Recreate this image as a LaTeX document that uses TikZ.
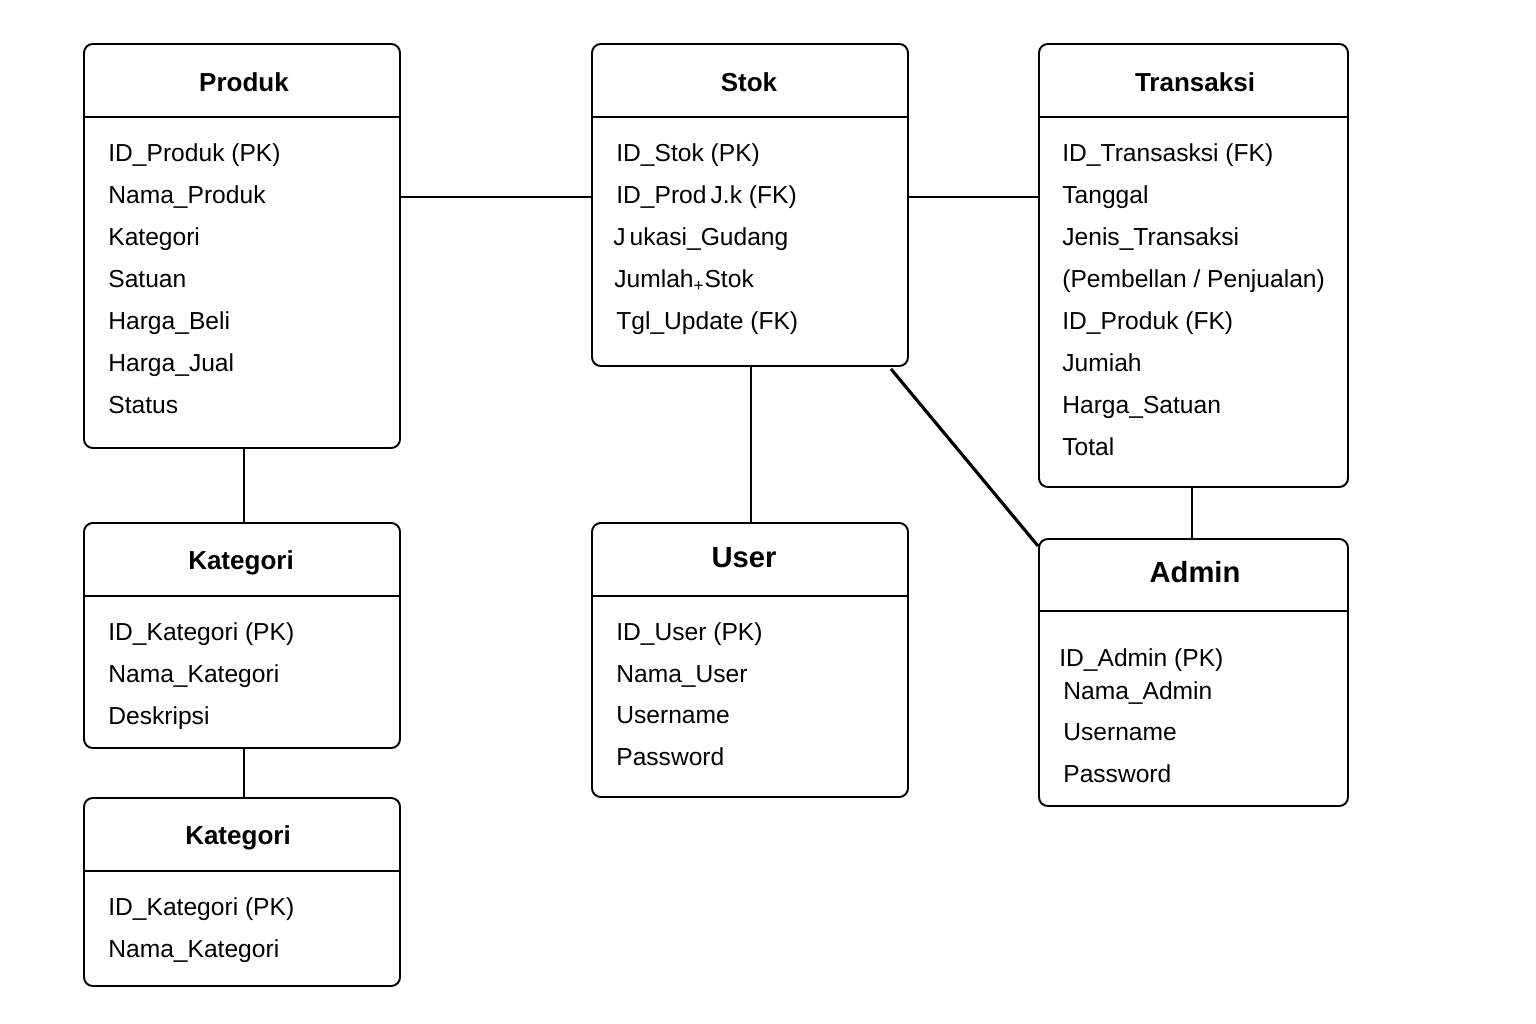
\documentclass[tikz,border=0pt]{standalone}
\usepackage{fontspec}
\setmainfont{Liberation Sans}
\usetikzlibrary{positioning,calc,fit}

\tikzset{
  entity/.style={draw, line width=1.1pt, rounded corners=5pt, inner sep=0pt},
  title/.style={font=\fontsize{14.8}{17}\selectfont\bfseries},
  bigtitle/.style={font=\fontsize{16.6}{19}\selectfont\bfseries},
  attr/.style={anchor=mid west, inner sep=0pt, font=\fontsize{14}{16}\selectfont},
  link/.style={line width=1.1pt},
  heavylink/.style={line width=1.8pt}
}
% header separator of an entity box
\newcommand{\entityrule}[2]{\draw[line width=0.8pt] (#1.west |- 0,#2) -- (#1.east |- 0,#2);}

\begin{document}
\begin{tikzpicture}[x=0.02cm, y=-0.02cm]
  \useasboundingbox (0,0) rectangle (1536,1024);

  % Entity boxes
  \node[entity, fit={(84,44) (400,448)}] (produk) {};
  \node[entity, fit={(592,44) (908,366)}] (stok) {};
  \node[entity, fit={(1039,44) (1348,487)}] (transaksi) {};
  \node[entity, fit={(84,523) (400,748)}] (kategori) {};
  \node[entity, fit={(592,523) (908,797)}] (user) {};
  \node[entity, fit={(1039,539) (1348,806)}] (admin) {};
  \node[entity, fit={(84,798) (400,986)}] (kategoriB) {};

  \entityrule{produk}{117}
  \entityrule{stok}{117}
  \entityrule{transaksi}{117}
  \entityrule{kategori}{596}
  \entityrule{user}{596}
  \entityrule{admin}{611}
  \entityrule{kategoriB}{871}

  % Titles
  \node[title] (produk-t) at (244,82) {Produk};
  \node[title] (stok-t) at (749,82) {Stok};
  \node[title] (transaksi-t) at (1195,82) {Transaksi};
  \node[title] (kategori-t) at (241,563) {Kategori};
  \node[bigtitle] (user-t) at (744,558) {User};
  \node[bigtitle] (admin-t) at (1195,572) {Admin};
  \node[title] (kategoriB-t) at (238,838) {Kategori};

  % Attributes
  \foreach \t [count=\i] in {ID\_Produk (PK), Nama\_Produk, Kategori, Satuan, Harga\_Beli, Harga\_Jual, Status}
    \node[attr] (produk-\i) at (108,115+42*\i) {\t};

  \node[attr] (stok-1) at (616,157) {ID\_Stok (PK)};
  \node[attr] (stok-2) at (616,199) {ID\_Prod\,J.k (FK)};
  \node[attr] (stok-3) at (613,241) {J\,ukasi\_Gudang};
  \node[attr] (stok-4) at (614,283) {Jumlah\textsubscript{+}Stok};
  \node[attr] (stok-5) at (616,325) {Tgl\_Update (FK)};

  \foreach \t [count=\i] in {ID\_Transasksi (FK), Tanggal, Jenis\_Transaksi, {(Pembellan / Penjualan)}, ID\_Produk (FK), Jumiah, Harga\_Satuan, Total}
    \node[attr] (transaksi-\i) at (1062,115+42*\i) {\t};

  \foreach \t [count=\i] in {ID\_Kategori (PK), Nama\_Kategori, Deskripsi}
    \node[attr] (kategori-\i) at (108,594+42*\i) {\t};

  \foreach \t [count=\i] in {ID\_User (PK), Nama\_User, Username, Password}
    \node[attr] (user-\i) at (616,594+41.7*\i) {\t};

  \node[attr] (admin-1) at (1059,662) {ID\_Admin (PK)};
  \node[attr] (admin-2) at (1063,695) {Nama\_Admin};
  \node[attr] (admin-3) at (1063,736) {Username};
  \node[attr] (admin-4) at (1063,778) {Password};

  \foreach \t [count=\i] in {ID\_Kategori (PK), Nama\_Kategori}
    \node[attr] (kategoriB-\i) at (108,869+42*\i) {\t};

  % Relationships
  \draw[link] (produk.east |- 0,197) -- (stok.west |- 0,197);
  \draw[link] (stok.east |- 0,197) -- (transaksi.west |- 0,197);
  \draw[link] (produk.south -| 244,0) -- (kategori.north -| 244,0);
  \draw[link] (kategori.south -| 244,0) -- (kategoriB.north -| 244,0);
  \draw[link] (stok.south -| 751,0) -- (user.north -| 751,0);
  \draw[link] (transaksi.south -| 1192,0) -- (admin.north -| 1192,0);
  \draw[heavylink] ($(stok.south east)+(-18,2)$) -- (admin.west |- 0,546);
\end{tikzpicture}
\end{document}
